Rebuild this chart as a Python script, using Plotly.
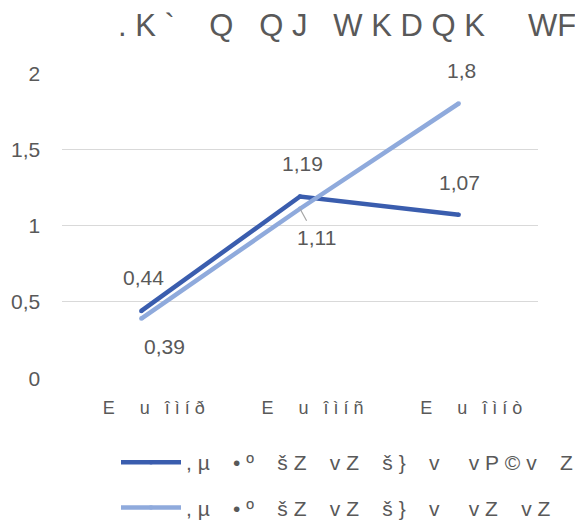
import plotly.graph_objects as go

NB = "\u00a0"
def sp(n):
    return NB * n

# ---- data ----
categories = [0, 1, 2]
tick_labels = [
    sp(5) + "E" + sp(5) + "u" + sp(3) + "î" + NB + "ì" + NB + "í" + NB + "ð",
    sp(5) + "E" + sp(5) + "u" + sp(3) + "î" + NB + "ì" + NB + "í" + NB + "ñ",
    sp(5) + "E" + sp(5) + "u" + sp(3) + "î" + NB + "ì" + NB + "í" + NB + "ò",
]
y_tick_values = [0, 0.5, 1, 1.5, 2]
y_tick_labels = ["0", "0,5", "1", "1,5", "2"]
series1_name = "," + NB + "µ" + sp(4) + "•" + NB + "º" + sp(4) + "š" + NB + "Z" + sp(4) + "v" + NB + "Z" + sp(4) + "š" + NB + "}" + sp(4) + "v" + sp(5) + "v" + NB + "P" + NB + "©" + NB + "v" + sp(4) + "Z"
series2_name = "," + NB + "µ" + sp(4) + "•" + NB + "º" + sp(4) + "š" + NB + "Z" + sp(4) + "v" + NB + "Z" + sp(4) + "š" + NB + "}" + sp(4) + "v" + sp(5) + "v" + NB + "Z" + sp(4) + "v" + NB + "Z"
series1_values = [0.44, 1.19, 1.07]
series2_values = [0.39, 1.11, 1.8]
title_text = "." + sp(1) + "K" + NB + "`" + sp(4) + "Q" + sp(3) + "Q" + NB + "J" + sp(3) + "W" + NB + "K" + NB + "D" + NB + "Q" + NB + "K" + sp(5) + "W" + "F"

color1 = "#3A5DAE"
color2 = "#8FAADC"
text_color = "#595959"
font_family = "Liberation Sans, Arial, sans-serif"

def fmt(v):
    return ("%g" % v).replace(".", ",")

def pad_tick(t):
    # give short labels the same width as "d,d" with an invisible prefix,
    # so all labels end at the same x whatever the anchoring
    if "," in t:
        return t
    return "<span style='color:rgba(255,255,255,0)'>0,</span>" + t

fig = go.Figure()
fig.add_trace(go.Scatter(
    x=categories, y=series1_values, name=series1_name, mode="lines+markers",
    line=dict(color=color1, width=4.5), marker=dict(size=4.5, color=color1),
    legendgroup="a", cliponaxis=False,
))
fig.add_trace(go.Scatter(
    x=categories, y=series2_values, name=series2_name, mode="lines+markers",
    line=dict(color=color2, width=4.5), marker=dict(size=4.5, color=color2),
    legendgroup="b", cliponaxis=False,
))

label_font = dict(family=font_family, size=21, color=text_color)
s1_shift = [(2, 33), (2, 33), (1, 32)]
for x, v, (dx, dy) in zip(categories, series1_values, s1_shift):
    fig.add_annotation(x=x, y=v, text=fmt(v), showarrow=False,
                       xshift=dx, yshift=dy, font=label_font)
s2_shift = [(23, -28), None, (3, 33)]
for i, (x, v) in enumerate(zip(categories, series2_values)):
    if s2_shift[i] is None:
        fig.add_annotation(x=x, y=v, text=fmt(v), showarrow=True,
                           arrowhead=0, arrowwidth=1.2, arrowcolor="#A6A6A6",
                           ax=16, ay=29, borderpad=5, font=label_font)
    else:
        dx, dy = s2_shift[i]
        fig.add_annotation(x=x, y=v, text=fmt(v), showarrow=False,
                           xshift=dx, yshift=dy, font=label_font)

for v, t in zip(y_tick_values, y_tick_labels):
    fig.add_annotation(xref="paper", yref="y", x=0, y=v, text=pad_tick(t),
                       showarrow=False, xanchor="right", yanchor="middle",
                       xshift=-20, font=label_font)

fig.update_layout(
    width=575, height=523,
    margin=dict(l=62, r=37, t=73, b=145, autoexpand=False),
    paper_bgcolor="white", plot_bgcolor="white",
    separators=", ",
    font=dict(family=font_family, size=21, color=text_color),
    title=dict(text=title_text, x=118/575, xanchor="left", xref="container",
               y=1 - 25/523, yanchor="middle", yref="container",
               font=dict(family=font_family, size=31, color=text_color)),
    showlegend=True,
    legend=dict(orientation="v", x=(116 - 62)/476, xanchor="left",
                y=-(442 - 378)/305, yanchor="top",
                font=dict(family=font_family, size=21, color=text_color),
                itemwidth=60, tracegroupgap=15, bgcolor="rgba(0,0,0,0)"),
    xaxis=dict(range=[-0.5, 2.5], tickvals=categories, ticktext=tick_labels,
               showgrid=False, zeroline=False, showline=False, ticks="",
               ticklabelstandoff=17, tickfont=dict(size=18)),
    yaxis=dict(range=[0, 2], tickvals=y_tick_values, showticklabels=False,
               showgrid=True, gridcolor="#D9D9D9", gridwidth=1, zeroline=False,
               showline=False, ticks=""),
)

fig.write_html("out.html", config={"displayModeBar": False},
               post_script="document.body.style.margin='0';document.body.style.overflow='hidden';")
